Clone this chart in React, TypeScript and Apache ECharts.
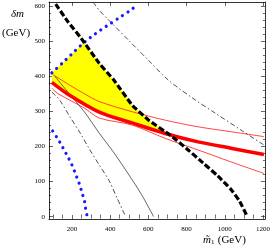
import React, { useEffect, useRef } from "react";
import * as echarts from "echarts";

// m1 (GeV) , delta m (GeV)
const blueUpper: number[][] = [[95,410],[150,438],[200,464],[250,490],[300,512],[350,532],[400,550],[450,568],[500,586],[545,604]];
const blueLower: number[][] = [[99,244],[122,225],[143,206],[162,187],[181,168],[200,147],[215,127],[229,107],[243,87],[253,67],[265,46],[271,24],[279,2]];
const blackDashed: number[][] = [[115,606],[180,555],[249,508],[343,437],[420,389],[515,318],[602,275],[715,232],[808,190],[886,153],[963,116],[1030,79],[1076,45],[1118,0]];
const dashDotUpper: number[][] = [[311,612],[343,588],[386,564],[500,501],[600,446],[705,389],[834,337],[950,295],[1084,247],[1205,204]];
const dashDotLower: number[][] = [[95,355],[136,332],[188,286],[240,241],[291,193],[343,147],[395,102],[436,53],[481,0]];
const solidBlack: number[][] = [[111,400],[188,349],[266,298],[343,238],[421,181],[498,119],[565,62],[627,0]];
const redThick: number[][] = [[95,383],[188,346],[343,298],[515,267],[688,237],[860,213],[1032,195],[1205,177]];
const redUpper: number[][] = [[100,405],[188,375],[266,350],[343,328],[515,299],[688,275],[860,256],[1032,242],[1205,228]];
const redLower: number[][] = [[95,366],[126,351],[266,309],[343,281],[515,261],[688,223],[860,190],[1032,156],[1205,123]];

const xMajor = [200, 400, 600, 800, 1000, 1200];
const yMajor = [0, 100, 200, 300, 400, 500, 600];
const xMinor: number[] = [];
for (let v = 100; v <= 1200; v += 50) if (v % 200 !== 0) xMinor.push(v);
const yMinor: number[] = [];
for (let v = 0; v <= 600; v += 20) if (v % 100 !== 0) yMinor.push(v);

// yellow allowed region corners (intersections)
const yellowTopCorner = [265, 497];
const yellowBottomCorner = [715, 232];

function buildYellow(): number[][] {
  const pts: number[][] = [];
  blueUpper.filter(p => p[0] < yellowTopCorner[0]).forEach(p => pts.push(p));
  pts.push(yellowTopCorner);
  blackDashed.filter(p => p[0] > yellowTopCorner[0] && p[0] < yellowBottomCorner[0]).forEach(p => pts.push(p));
  pts.push(yellowBottomCorner);
  redThick.filter(p => p[0] < yellowBottomCorner[0]).reverse().forEach(p => pts.push(p));
  return pts;
}

const serif = "'Liberation Serif', 'DejaVu Serif', serif";

export default function App() {
  const ref = useRef<HTMLDivElement>(null);
  useEffect(() => {
    if (!ref.current) return;
    const chart = echarts.init(ref.current, null, { renderer: "svg" });
    const yellow = buildYellow();
    const axisLine = { show: true, onZero: false, lineStyle: { color: "#000", width: 0.8 } };
    const fmt = (v: number) => String(v);
    const mkX = (pos: string, vals: number[], len: number, label: boolean, line: boolean) => ({
      type: "value", position: pos, min: 80, max: 1210,
      axisLine: line ? axisLine : { show: false },
      axisTick: { show: true, inside: true, length: len, customValues: vals, lineStyle: { color: "#000", width: 0.6 } },
      axisLabel: label ? { show: true, customValues: vals, formatter: fmt, fontSize: 7, fontFamily: serif, color: "#000", margin: 6 } : { show: false },
      splitLine: { show: false },
    });
    const mkY = (pos: string, vals: number[], len: number, label: boolean, line: boolean) => ({
      type: "value", position: pos, min: -7, max: 612,
      axisLine: line ? axisLine : { show: false },
      axisTick: { show: true, inside: true, length: len, customValues: vals, lineStyle: { color: "#000", width: 0.6 } },
      axisLabel: label ? { show: true, customValues: vals, formatter: fmt, fontSize: 7, fontFamily: serif, color: "#000", margin: 4 } : { show: false },
      splitLine: { show: false },
    });
    const line = (data: number[][], style: any, z = 3, smooth = 0.3) => ({
      type: "line", data, showSymbol: false, smooth, xAxisIndex: 0, yAxisIndex: 0, z,
      lineStyle: style, clip: true, silent: true,
    });
    chart.setOption({
      animation: false,
      grid: { left: 49, right: 6, top: 2, bottom: 28 },
      xAxis: [
        mkX("bottom", xMajor, 4, true, true),
        mkX("bottom", xMinor, 2, false, false),
        mkX("top", xMajor, 4, false, true),
        mkX("top", xMinor, 2, false, false),
      ],
      yAxis: [
        mkY("left", yMajor, 4, true, true),
        mkY("left", yMinor, 2, false, false),
        mkY("right", yMajor, 4, false, true),
        mkY("right", yMinor, 2, false, false),
      ],
      graphic: [
        { type: "text", left: 11, top: 7, style: { text: "δm", font: `italic 11px ${serif}`, fill: "#000" } },
        { type: "text", left: 2, top: 26, style: { text: "(GeV)", font: `11px ${serif}`, fill: "#000" } },
        {
          type: "text", left: 203, top: 233,
          style: {
            text: "{m|m\u0303}{s|1} {g|(GeV)}",
            rich: {
              m: { font: `italic 11px ${serif}`, fill: "#000" },
              s: { font: `7px ${serif}`, fill: "#000", verticalAlign: "bottom", padding: [4, 0, 0, 0] },
              g: { font: `11px ${serif}`, fill: "#000" },
            },
          },
        },
      ],
      series: [
        {
          type: "custom", xAxisIndex: 0, yAxisIndex: 0, data: [[0, 0]], z: 1, silent: true,
          renderItem: (_p: any, api: any) => ({
            type: "polygon",
            shape: { points: yellow.map(p => api.coord(p)) },
            style: { fill: "#ffff00", stroke: "none" },
          }),
        },
        line(redUpper, { color: "#ff3030", width: 0.9 }),
        line(redLower, { color: "#ff3030", width: 0.9 }),
        line(solidBlack, { color: "#222", width: 0.7 }),
        line(dashDotLower, { color: "#222", width: 0.8, type: [5, 2.5, 1.5, 2.5] }),
        line(dashDotUpper, { color: "#222", width: 0.8, type: [5, 2.5, 1.5, 2.5] }),
        line(redThick, { color: "#ff0000", width: 3.5 }, 4),
        line(blueUpper, { color: "#1a1aff", width: 3.2, type: [0.01, 6.5], cap: "round" }, 5),
        line(blueLower, { color: "#1a1aff", width: 3.2, type: [0.01, 6.5], cap: "round" }, 5),
        line(blackDashed, { color: "#000", width: 3.2, type: [6, 2.5] }, 6, 0.15),
      ],
    });
    return () => chart.dispose();
  }, []);
  return <div ref={ref} style={{ position: "fixed", left: 0, top: 0, width: 273, height: 247 }} />;
}
